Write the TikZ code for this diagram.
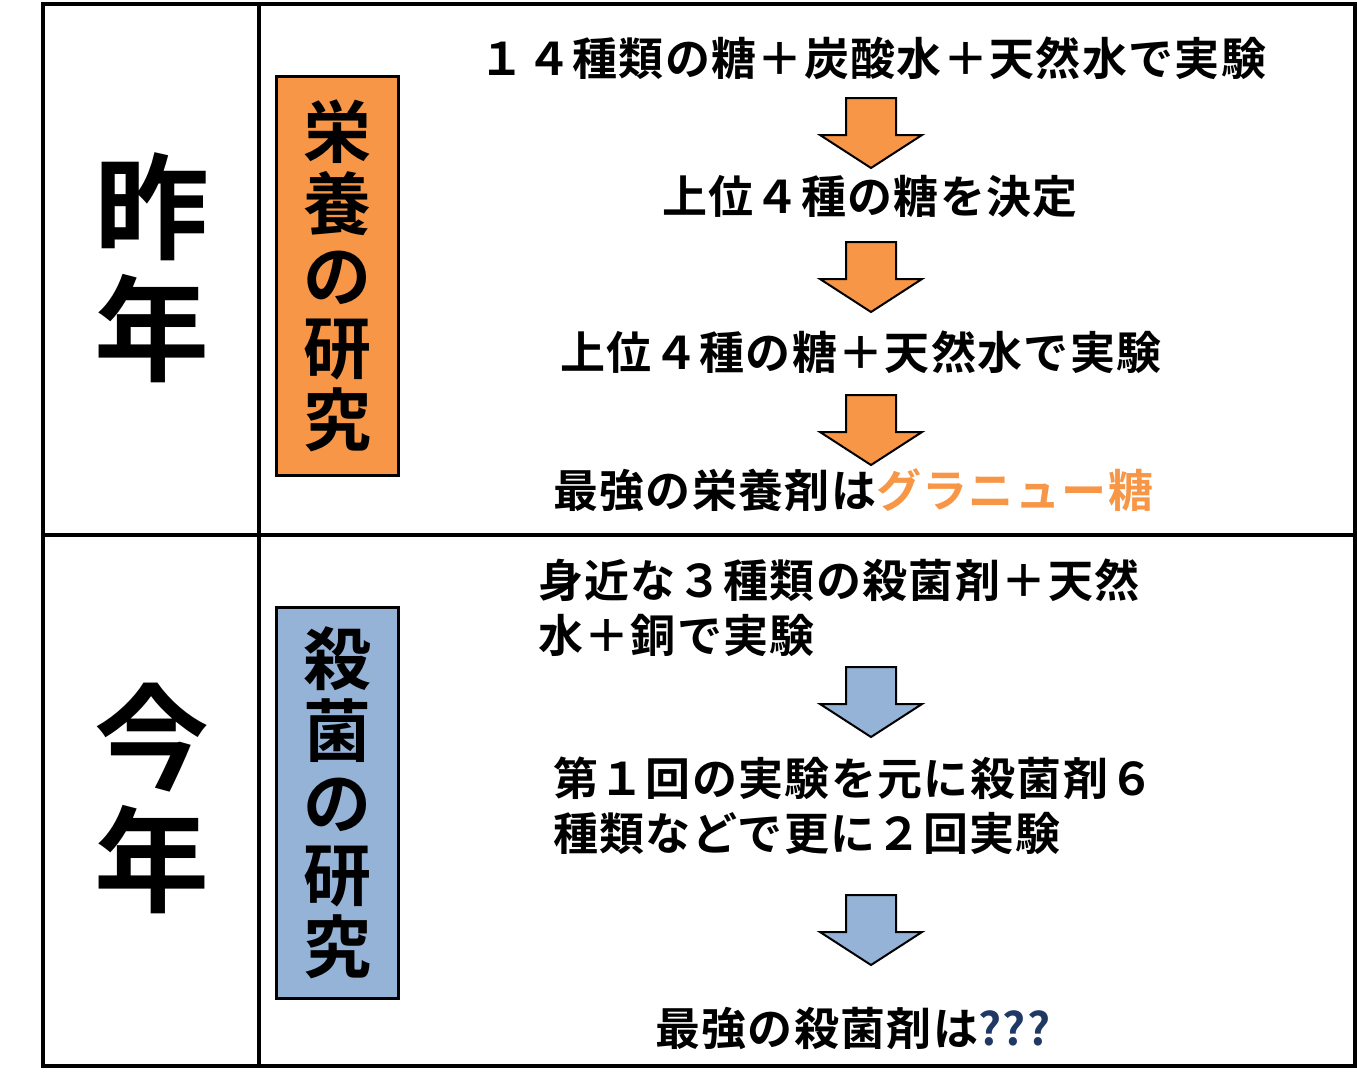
\documentclass[tikz,border=0pt]{standalone}
\usepackage{fontspec}
\setmainfont{Noto Sans CJK JP}[BoldFont={Noto Sans CJK JP Bold},LetterSpace=3]
\definecolor{org}{RGB}{247,150,70}
\definecolor{blu}{RGB}{149,179,215}
\definecolor{dblu}{RGB}{31,56,100}
\begin{document}
\begin{tikzpicture}[x=1pt,y=-1pt,
  txt/.style={font=\bfseries\fontsize{45}{55}\selectfont,inner sep=0},
  big/.style={font=\bfseries\fontsize{115}{122}\selectfont,inner sep=0,align=center},
  vbox/.style={draw=black,line width=3pt,minimum width=122pt,align=center,inner sep=0,font=\bfseries\fontsize{68}{72}\selectfont},
  frame/.style={line width=3.5pt}]
\useasboundingbox (0,0) rectangle (1357,1088);
\draw[frame] (43,4) rectangle (1355,1066);
\draw[frame] (43,535) -- (1355,535);
\draw[frame] (259,4) -- (259,1066);
\node[big] (lastyear) at (152,268) {昨\\年};
\node[big] (thisyear) at (152,798) {今\\年};
\node[vbox,fill=org,minimum height=399pt] (eiyo) at (337,275.5) {栄\\養\\の\\研\\究};
\node[vbox,fill=blu,minimum height=391pt] (sakkin) at (337,802.5) {殺\\菌\\の\\研\\究};
\def\darr#1#2#3{\draw[line width=2pt,fill=#1] (846,#2) -- (896,#2) -- (896,#2+37) -- (922,#2+37) -- (871,#2+#3) -- (820,#2+37) -- (846,#2+37) -- cycle;}
\node[txt] (t1) at (873,58) {１４種類の糖＋炭酸水＋天然水で実験};
\darr{org}{98}{70}
\node[txt] (t2) at (870,197) {上位４種の糖を決定};
\darr{org}{242}{70}
\node[txt] (t3) at (861,352) {上位４種の糖＋天然水で実験};
\darr{org}{395}{70}
\node[txt,anchor=west] (t4) at (553,490) {最強の栄養剤は\textcolor{org}{グラニュー糖}};
\node[txt,anchor=west,align=left] (t5) at (538,608) {身近な３種類の殺菌剤＋天然\\水＋銅で実験};
\darr{blu}{667}{70}
\node[txt,anchor=west,align=left] (t6) at (553,806) {第１回の実験を元に殺菌剤６\\種類などで更に２回実験};
\darr{blu}{895}{70}
\node[txt,anchor=west] (t7) at (655,1028) {最強の殺菌剤は\textcolor{dblu}{???}};
\end{tikzpicture}
\end{document}
